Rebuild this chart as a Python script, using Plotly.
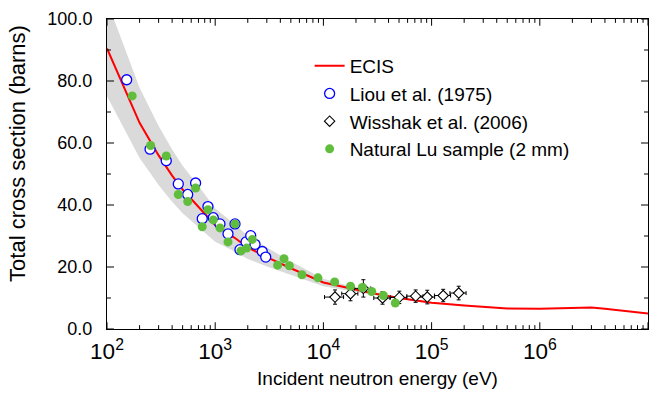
import math
import plotly.graph_objects as go

# ECIS optical-model total cross section (eV, barns)
ecis_e = [100, 200, 300, 400, 500, 700, 1000, 1500, 2000, 3000, 5000, 1e4, 2e4, 3e4,
          5e4, 1e5, 2e5, 5e5, 1e6, 1.5e6, 2e6, 2.5e6, 3e6, 4e6, 5e6, 7e6, 1e7]
ecis_s = [90.5, 66.5, 56.0, 49.5, 45.0, 39.5, 33.5, 29.5, 26.3, 23.2, 19.6, 15.0, 12.6, 11.4,
          10.0, 8.5, 7.6, 6.6, 6.5, 6.7, 6.9, 7.0, 6.9, 6.5, 6.1, 5.5, 5.0]
# relative half-width of the ECIS uncertainty band
ecis_rel = [0.17, 0.17, 0.17, 0.17, 0.17, 0.17, 0.16, 0.15, 0.14, 0.13, 0.11, 0.08, 0.055, 0.045,
            0.035, 0.025, 0.02, 0.01, 0.0, 0.0, 0.0, 0.0, 0.0, 0.0, 0.0, 0.0, 0.0]

# Liou et al. (1975)
liou_e = [152, 250, 353, 456, 557, 659, 759, 857, 960, 1107, 1313, 1524, 1694, 1929,
          2128, 2334, 2724, 2930]
liou_s = [80.4, 58.0, 54.3, 46.8, 43.4, 47.1, 35.6, 39.5, 35.9, 33.9, 30.7, 33.9, 25.6, 28.1,
          30.1, 27.3, 25.0, 23.2]

# Wisshak et al. (2006)
wiss_e = [12800, 17800, 23400, 35200, 50300, 71200, 91200, 128000, 178000]
wiss_s = [10.3, 11.4, 13.1, 10.0, 10.2, 10.6, 10.3, 10.8, 11.6]
wiss_ds = [2.3, 2.3, 2.8, 2.0, 2.0, 2.0, 2.2, 2.0, 2.2]
wiss_de_rel = [0.2, 0.17, 0.17, 0.17, 0.17, 0.17, 0.17, 0.17, 0.17]

# Natural Lu sample (2 mm)
nat_e = [171, 253, 353, 456, 557, 659, 759, 857, 960, 1107, 1313, 1524, 1730, 1955,
         2203, 3775, 4325, 4844, 6340, 8900, 12700, 17800, 22900, 27950, 35800, 46200]
nat_s = [75.2, 59.2, 55.8, 43.4, 41.1, 45.5, 33.0, 38.5, 35.2, 32.6, 28.1, 33.9, 25.2, 26.1,
         28.9, 20.6, 22.7, 20.4, 17.5, 16.5, 15.2, 13.8, 13.4, 12.1, 10.8, 8.4]

# axis ranges and tick positions
X_RANGE = (2, 7)          # log10(eV)
Y_RANGE = (0, 100)        # barns
x_major = [10 ** k for k in range(2, 8)]
x_minor = [m * 10 ** k for k in range(2, 7) for m in range(2, 10)]
y_major = list(range(0, 101, 20))
y_minor = list(range(10, 100, 20))

FONT = "Liberation Sans, Arial, Helvetica, sans-serif"
W, H = 658, 394
M_L, M_R, M_T, M_B = 107, 9, 17, 55
PLOT_W, PLOT_H = W - M_L - M_R, H - M_T - M_B
MAJOR_LEN, MINOR_LEN = 7, 4

band_lo = [s * (1 - r) for s, r in zip(ecis_s, ecis_rel)]
band_hi = [s * (1 + r) for s, r in zip(ecis_s, ecis_rel)]

fig = go.Figure()

fig.add_trace(go.Scatter(x=ecis_e, y=band_lo, mode="lines", line=dict(width=0),
                         showlegend=False, hoverinfo="skip"))
fig.add_trace(go.Scatter(x=ecis_e, y=band_hi, mode="lines", line=dict(width=0),
                         fill="tonexty", fillcolor="rgb(218,218,218)",
                         showlegend=False, hoverinfo="skip"))

fig.add_trace(go.Scatter(x=ecis_e, y=ecis_s, mode="lines", name="ECIS",
                         line=dict(color="rgb(255,0,0)", width=2), legendrank=1))

fig.add_trace(go.Scatter(
    x=wiss_e, y=wiss_s, mode="markers", name="Wisshak et al. (2006)", legendrank=3,
    marker=dict(symbol="diamond", size=8, color="white",
                line=dict(color="black", width=1.1)),
    error_y=dict(type="data", array=wiss_ds, color="black", thickness=1, width=2),
    error_x=dict(type="data",
                 array=[e * r for e, r in zip(wiss_e, wiss_de_rel)],
                 arrayminus=[e * r for e, r in zip(wiss_e, wiss_de_rel)],
                 color="black", thickness=1, width=2),
))

fig.add_trace(go.Scatter(
    x=liou_e, y=liou_s, mode="markers", name="Liou et al. (1975)", legendrank=2,
    marker=dict(symbol="circle", size=10, color="white",
                line=dict(color="rgb(0,0,255)", width=1.3)),
))

fig.add_trace(go.Scatter(
    x=nat_e, y=nat_s, mode="markers", name="Natural Lu sample (2 mm)", legendrank=4,
    marker=dict(symbol="circle", size=9, color="rgb(96,190,60)"),
))

# inward frame ticks on all four sides, as one line trace broken by gaps
y_per_px = (Y_RANGE[1] - Y_RANGE[0]) / PLOT_H
dec_per_px = (X_RANGE[1] - X_RANGE[0]) / PLOT_W
tx, ty = [], []
for vals, length in ((x_major, MAJOR_LEN), (x_minor, MINOR_LEN)):
    dy = length * y_per_px
    for v in vals:
        tx += [v, v, None, v, v, None]
        ty += [Y_RANGE[0], Y_RANGE[0] + dy, None, Y_RANGE[1], Y_RANGE[1] - dy, None]
for vals, length in ((y_major, MAJOR_LEN), (y_minor, MINOR_LEN)):
    dd = length * dec_per_px
    for v in vals:
        tx += [10 ** X_RANGE[0], 10 ** (X_RANGE[0] + dd), None,
               10 ** X_RANGE[1], 10 ** (X_RANGE[1] - dd), None]
        ty += [v, v, None, v, v, None]
fig.add_trace(go.Scatter(x=tx, y=ty, mode="lines", line=dict(color="black", width=1),
                         showlegend=False, hoverinfo="skip", connectgaps=False,
                         cliponaxis=False))

fig.update_layout(
    width=W, height=H,
    margin=dict(l=M_L, r=M_R, t=M_T, b=M_B),
    paper_bgcolor="white", plot_bgcolor="white",
    font=dict(family=FONT, size=18, color="black"),
    showlegend=True,
    legend=dict(x=(310 - M_L) / PLOT_W, y=(339 - 46) / PLOT_H, xanchor="left", yanchor="top",
                bgcolor="rgba(0,0,0,0)", font=dict(size=19, family=FONT),
                traceorder="normal", tracegroupgap=0),
    xaxis=dict(
        type="log", range=list(X_RANGE), dtick=1, exponentformat="power",
        showgrid=False, zeroline=False,
        showline=True, linecolor="black", linewidth=1, mirror=True,
        ticks="", tickfont=dict(size=18), ticklabelstandoff=3,
        title=dict(text="Incident neutron energy (eV)", font=dict(size=19), standoff=8),
    ),
    yaxis=dict(
        range=list(Y_RANGE), dtick=20, tickformat=".1f",
        showgrid=False, zeroline=False,
        showline=True, linecolor="black", linewidth=1, mirror=True,
        ticks="", tickfont=dict(size=18), ticklabelstandoff=10,
    ),
    annotations=[dict(
        text="Total cross section (barns)", textangle=-90,
        xref="paper", yref="paper", x=-(M_L - 18) / PLOT_W, y=(339 - 157) / PLOT_H,
        xanchor="center", yanchor="middle", showarrow=False,
        font=dict(size=22, family=FONT),
    )],
)

fig.write_html("out.html")
